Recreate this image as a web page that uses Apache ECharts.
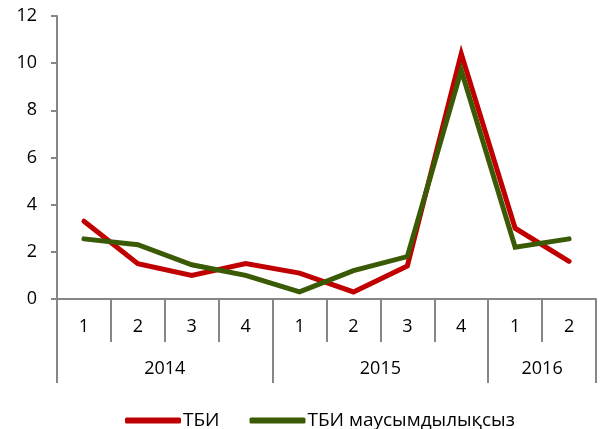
<!DOCTYPE html>
<html>
<head>
<meta charset="utf-8">
<script src="https://cdn.jsdelivr.net/npm/echarts@6/dist/echarts.min.js"></script>
<style>
  html, body { margin: 0; padding: 0; background: #fff; }
  #chart { width: 600px; height: 429px; }
</style>
</head>
<body>
<div id="chart"></div>
<script>
// Quarterly index, 2014 Q1 – 2016 Q2
const quarters = ['1', '2', '3', '4', '1', '2', '3', '4', '1', '2'];
// Year labels placed on category boundaries (0..10)
const yearBoundaryLabels = ['', '', '2014', '', '', '', '2015', '', '', '2016', ''];
const yearBoundaryTicks = [0, 4, 8, 10];
const tbi = [3.3, 1.5, 1.0, 1.5, 1.1, 0.3, 1.4, 10.4, 3.0, 1.6];
const tbiSeasonAdj = [2.55, 2.3, 1.45, 1.0, 0.3, 1.2, 1.8, 9.7, 2.2, 2.55];
const yTicks = [0, 2, 4, 6, 8, 10, 12];

const axisColor = '#868686';
const fontFamily = '"Open Sans", sans-serif';
const fontSize = 18;

const chart = echarts.init(document.getElementById('chart'), null, { renderer: 'canvas' });
chart.setOption({
  animation: false,
  textStyle: { fontFamily: fontFamily },
  grid: { left: 57, right: 4, top: 16, bottom: 130, containLabel: false },
  legend: {
    top: 406,
    left: 120,
    itemWidth: 56,
    itemHeight: 6,
    itemGap: 30,
    icon: 'roundRect',
    textStyle: { fontSize: 19, color: '#000', fontFamily: fontFamily, padding: [0, 0, 0, -3] },
    data: ['ТБИ', 'ТБИ маусымдылықсыз']
  },
  xAxis: [
    {
      type: 'category',
      data: quarters,
      position: 'bottom',
      axisLine: { lineStyle: { color: axisColor, width: 2 } },
      axisTick: { show: true, length: 43, interval: 0, lineStyle: { color: axisColor, width: 2 } },
      axisLabel: { margin: 19, fontSize: fontSize, color: '#000', interval: 0 },
      splitLine: { show: false }
    },
    {
      type: 'category',
      data: yearBoundaryLabels,
      boundaryGap: false,
      position: 'bottom',
      axisLine: { show: false },
      axisTick: {
        show: true,
        length: 84,
        interval: function (i) { return yearBoundaryTicks.indexOf(i) >= 0; },
        lineStyle: { color: axisColor, width: 2 }
      },
      axisLabel: { margin: 61, fontSize: fontSize, color: '#000', interval: 0 },
      splitLine: { show: false }
    }
  ],
  yAxis: {
    type: 'value',
    min: yTicks[0],
    max: yTicks[yTicks.length - 1],
    interval: 2,
    axisLine: { show: true, lineStyle: { color: axisColor, width: 2 } },
    axisTick: { show: true, length: 6, lineStyle: { color: axisColor, width: 2 } },
    axisLabel: { fontSize: fontSize, color: '#000', margin: 20 },
    splitLine: { show: false }
  },
  series: [
    {
      name: 'ТБИ',
      type: 'line',
      xAxisIndex: 0,
      data: tbi,
      showSymbol: false,
      symbol: 'none',
      color: '#c00000',
      lineStyle: { width: 5, color: '#c00000', cap: 'round', join: 'miter' }
    },
    {
      name: 'ТБИ маусымдылықсыз',
      type: 'line',
      xAxisIndex: 0,
      data: tbiSeasonAdj,
      showSymbol: false,
      symbol: 'none',
      color: '#3a5a05',
      lineStyle: { width: 5, color: '#3a5a05', cap: 'round', join: 'miter' }
    }
  ]
});
</script>
</body>
</html>
